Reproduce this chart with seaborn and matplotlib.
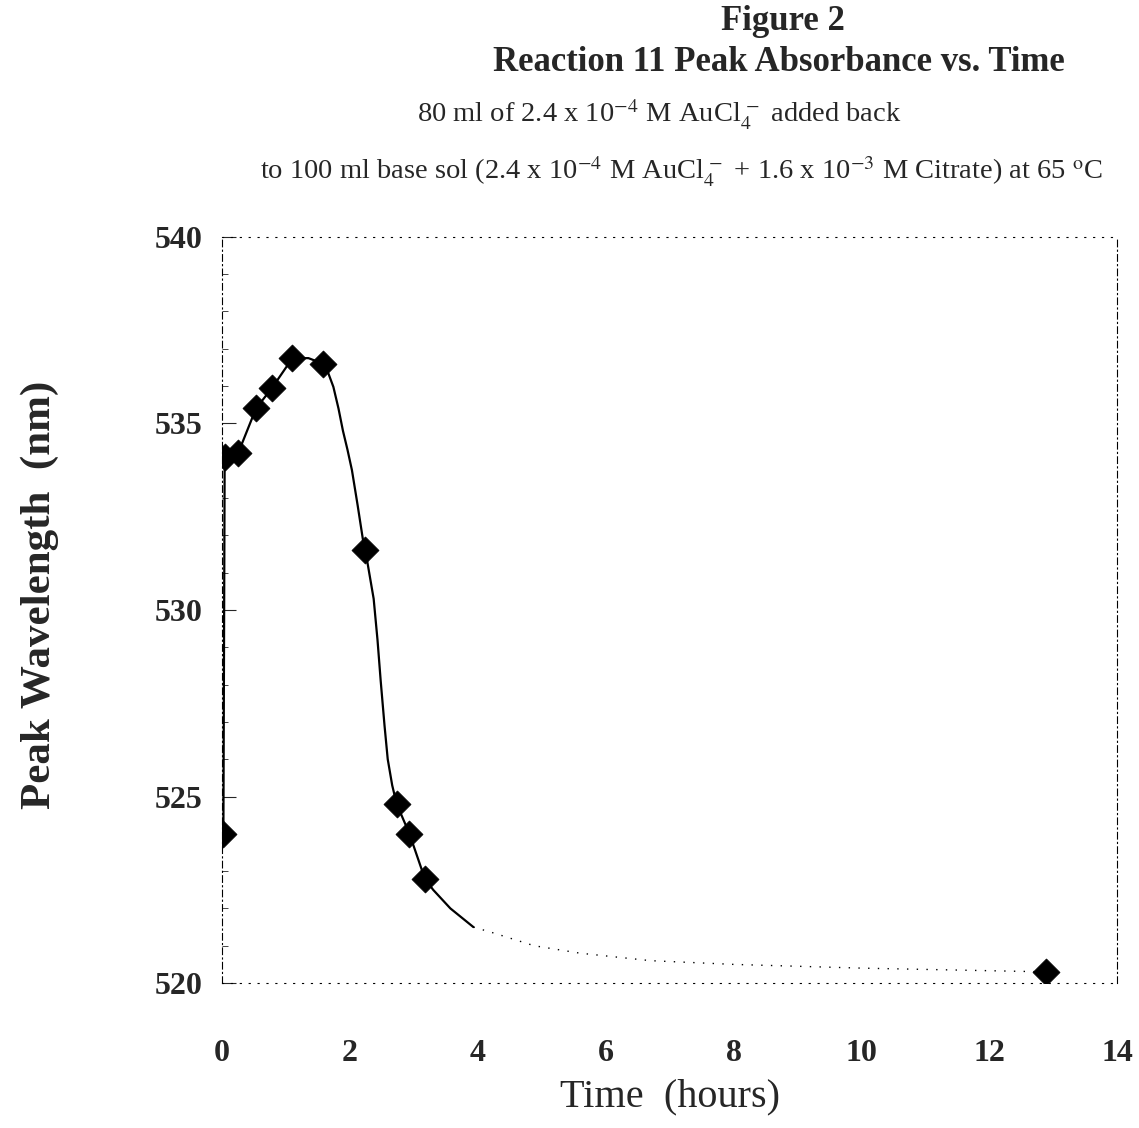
import matplotlib
matplotlib.use("Agg")
import matplotlib.pyplot as plt
import seaborn as sns
import pandas as pd
from matplotlib.ticker import MultipleLocator

# Measured data points (time in hours, peak wavelength in nm)
time_h = [0.02, 0.04, 0.25, 0.53, 0.78, 1.10, 1.58, 2.24, 2.73, 2.93, 3.17, 12.89]
peak_nm = [524.0, 534.1, 534.2, 535.4, 535.95, 536.75, 536.6, 531.6, 524.8, 524.0, 522.8, 520.3]

# Smooth fitted curve (solid part)
curve_t = [0.02, 0.04, 0.25, 0.53, 0.78, 1.10, 1.35, 1.58, 1.66, 1.74, 1.82, 1.89, 1.96, 2.03,
           2.12, 2.21, 2.24, 2.30, 2.37, 2.43, 2.48, 2.54, 2.59, 2.66, 2.73, 2.93, 3.17, 3.30,
           3.57, 3.93]
curve_nm = [524.0, 534.1, 534.2, 535.4, 535.95, 536.75, 536.75, 536.6, 536.35, 535.98, 535.4,
            534.8, 534.3, 533.75, 532.8, 531.8, 531.6, 531.0, 530.3, 529.2, 528.1, 526.9,
            526.0, 525.3, 524.8, 524.0, 522.8, 522.5, 522.0, 521.5]
# Faint tail of the curve
tail_t = [3.93, 4.25, 4.88, 5.6, 6.7, 8.0, 10.0, 12.89]
tail_nm = [521.5, 521.34, 521.0, 520.8, 520.6, 520.5, 520.4, 520.3]

x_ticks = [0, 2, 4, 6, 8, 10, 12, 14]
y_ticks = [520, 525, 530, 535, 540]

sns.set_theme(style="white")
plt.rcParams["font.family"] = ["Liberation Serif", "DejaVu Serif"]
plt.rcParams["mathtext.fontset"] = "stix"

fig = plt.figure(figsize=(11.39, 11.28), dpi=100)
ax = fig.add_axes([0.195, 0.1285, 0.786, 0.6615])

pts = pd.DataFrame({"t": time_h, "nm": peak_nm})
cur = pd.DataFrame({"t": curve_t, "nm": curve_nm})
tail = pd.DataFrame({"t": tail_t, "nm": tail_nm})

sns.lineplot(data=cur, x="t", y="nm", sort=False, color="black", linewidth=1.6, ax=ax)
sns.lineplot(data=tail, x="t", y="nm", sort=False, color="black", linewidth=1.0,
             linestyle=(0, (1, 6)), ax=ax)
sns.scatterplot(data=pts, x="t", y="nm", marker="D", s=190, color="black",
                edgecolor="black", linewidth=0.5, ax=ax, zorder=5)

ax.set_xlim(0, 14)
ax.set_ylim(520, 540)
ax.set_xticks(x_ticks)
ax.set_yticks(y_ticks)
ax.set_xticklabels([str(v) for v in x_ticks], fontsize=23, fontweight="bold")
ax.set_yticklabels([str(v) for v in y_ticks], fontsize=23, fontweight="bold")
ax.yaxis.set_minor_locator(MultipleLocator(1))
ax.tick_params(axis="y", which="major", direction="in", length=10, width=0.8, pad=14, left=True)
ax.tick_params(axis="y", which="minor", direction="in", length=4, width=0.6, left=True)
ax.tick_params(axis="x", which="major", direction="in", length=0, pad=40, bottom=True)

for side, sp in ax.spines.items():
    sp.set_visible(True)
    sp.set_color("black")
    sp.set_linewidth(0.8)
    if side in ("left", "right"):
        sp.set_linestyle((0, (6, 3, 1, 3)))
    else:
        sp.set_linestyle((0, (1, 7)))

ax.set_xlabel("Time  (hours)", fontsize=29)
ax.set_ylabel("Peak Wavelength  (nm)", fontsize=31, fontweight="bold")
ax.yaxis.set_label_coords(-0.182, 0.52)
ax.xaxis.set_label_coords(0.5, -0.128)

fig.text(0.687, 0.981, "Figure 2", ha="center", va="center", fontsize=25, fontweight="bold")
fig.text(0.684, 0.945, "Reaction 11 Peak Absorbance vs. Time", ha="center", va="center",
         fontsize=25, fontweight="bold")
fig.text(0.579, 0.898, r"80 ml of 2.4 x 10$^{-4}$ M AuCl$_4^{\,-}$ added back",
         ha="center", va="center", fontsize=20.5)
fig.text(0.598, 0.848,
         r"to 100 ml base sol (2.4 x 10$^{-4}$ M AuCl$_4^{\,-}$ + 1.6 x 10$^{-3}$ M Citrate) at 65 $^{\mathrm{o}}$C",
         ha="center", va="center", fontsize=20.5)

fig.savefig("out.png", dpi=100)
